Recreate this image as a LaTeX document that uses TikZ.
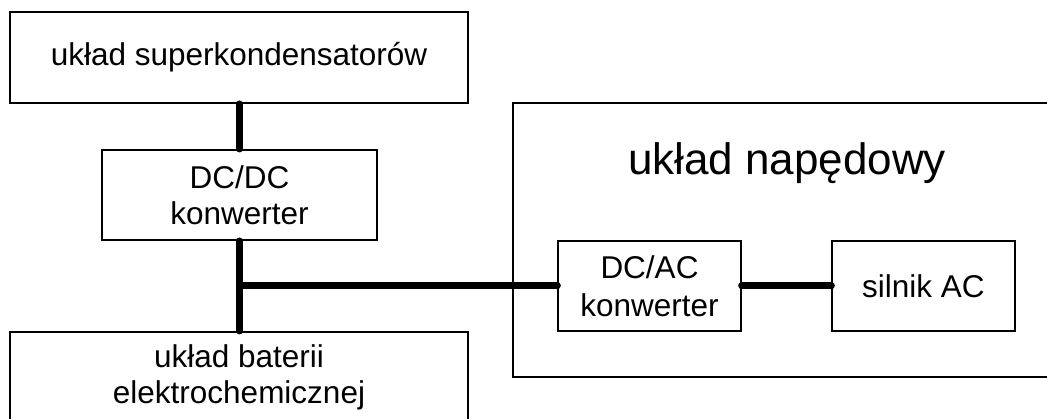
\documentclass[tikz,border=0pt]{standalone}
\usepackage{fontspec}
\setmainfont{Liberation Sans}
\begin{document}
\begin{tikzpicture}[x=1pt,y=-1pt,
  box/.style={draw=black,line width=2pt,inner sep=0pt,align=center,
    font=\fontsize{31.5}{36}\selectfont},
  thinbox/.style={box,line width=1.3pt},
  bus/.style={line width=7pt,line cap=round}]
\useasboundingbox (0,0) rectangle (1047,419);
\clip (0,0) rectangle (1047,419);
% boxes
\node[box,minimum width=458pt,minimum height=91pt] (sc) at (239,57.5) {układ superkondensatorów};
\node[box,minimum width=275pt,minimum height=90pt] (dcdc) at (239.5,195) {DC/DC\\konwerter};
\node[box,minimum width=458pt,minimum height=90pt] (bat) at (239,377) {układ baterii\\elektrochemicznej};
\node[box,minimum width=560pt,minimum height=274pt] (drive) at (793,240) {};
\node[font=\fontsize{44}{50}\selectfont,anchor=base,inner sep=0pt] (drivet) at (787,175) {układ napędowy};
\node[thinbox,minimum width=183pt,minimum height=90pt,font=\fontsize{31.5}{37.5}\selectfont] (dcac) at (649.5,286) {DC/AC\\konwerter};
\node[thinbox,minimum width=183pt,minimum height=90pt] (motor) at (923.5,286) {silnik AC};
% connectors
\coordinate (j) at (dcdc.south |- dcac.west);
\draw[bus] (sc.south -| dcdc.north) -- (dcdc.north);
\draw[bus] (dcdc.south) -- (dcdc.south |- bat.north);
\draw[bus] (j) -- (dcac.west);
\draw[bus] (dcac.east) -- (motor.west);
\end{tikzpicture}
\end{document}
